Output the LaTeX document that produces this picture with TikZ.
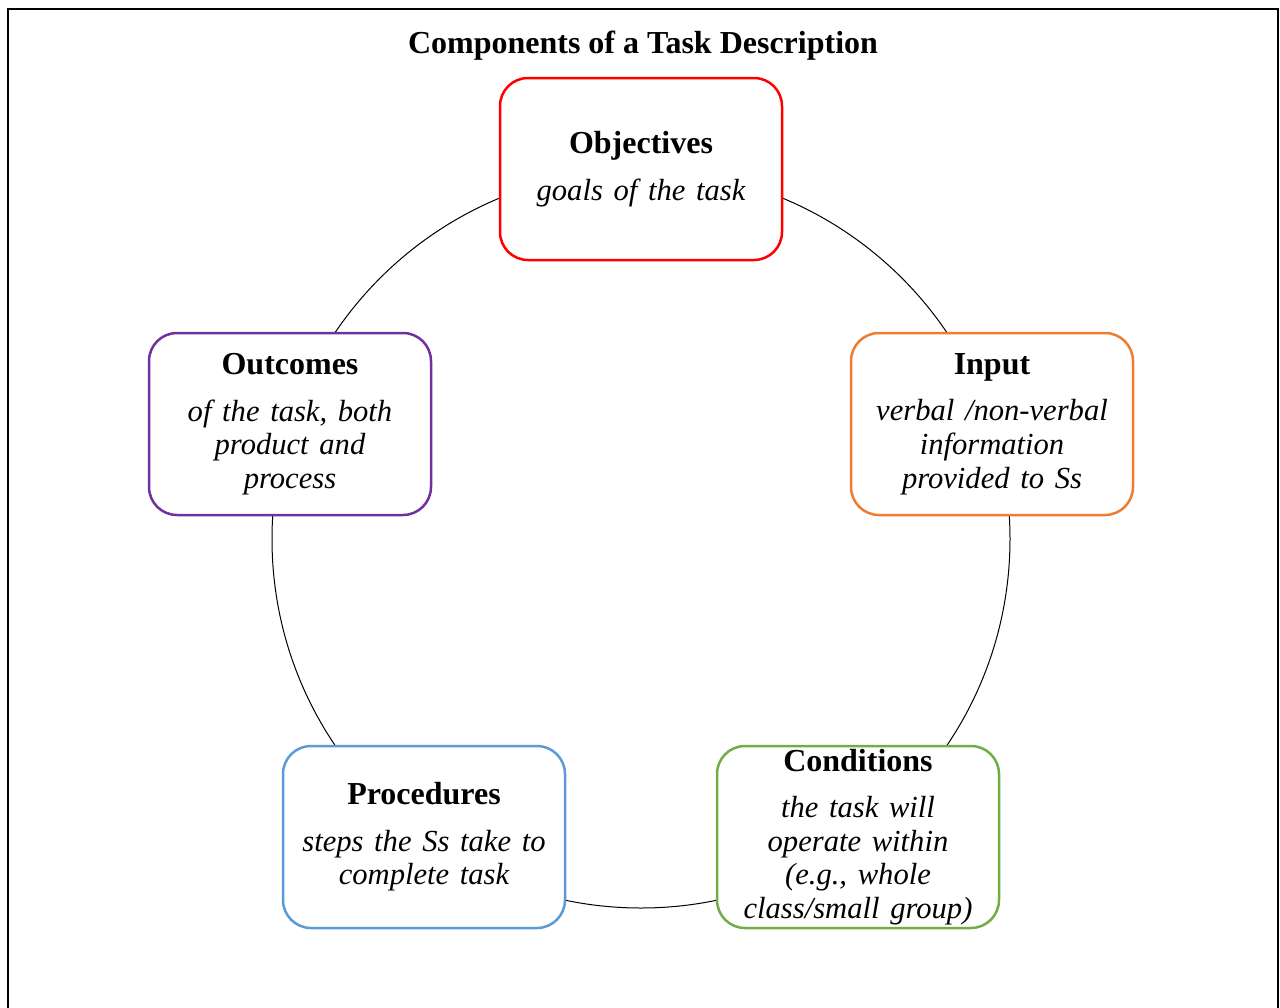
\documentclass[tikz,border=0pt]{standalone}
\usepackage{fontspec}
\setmainfont{Liberation Serif}
\usepackage{xcolor}

\definecolor{objred}{RGB}{255,0,0}
\definecolor{inorange}{RGB}{237,125,49}
\definecolor{condgreen}{RGB}{112,173,71}
\definecolor{procblue}{RGB}{91,155,213}
\definecolor{outpurple}{RGB}{112,48,160}

\newcommand{\sub}[1]{{\fontsize{30.6}{33.6}\selectfont\itshape #1}}

\begin{document}
\begin{tikzpicture}[x=1pt,y=-1pt,
        part/.style={draw, line width=2.5pt, rounded corners=28pt, fill=white,
            minimum width=282pt, minimum height=182pt, inner sep=0pt,
            text width=270pt, align=center,
            font=\fontsize{32}{33.6}\selectfont},
        head/.style={font=\fontsize{32}{36}\selectfont\bfseries}
    ]
        \useasboundingbox (0,0) rectangle (1280,1007);
        \draw[line width=2.5pt] (8,9) rectangle (1278,1030);

        \node[head] (title) at (643,46) {Components of a Task Description};

        % the ring behind the five parts
        \coordinate (hub) at (641,539);
        \draw[line width=1pt] (hub) circle[radius=369];

        \node[part, draw=objred] (objectives) at (641,169)
            {\textbf{Objectives}\\[13pt]\sub{goals of the task}};
        \node[part, draw=inorange] (input) at (992,424)
            {\textbf{Input}\\[13pt]\sub{verbal /non-verbal\\information\\provided to Ss}};
        \node[part, draw=condgreen] (conditions) at (858,837)
            {\textbf{Conditions}\\[13pt]\sub{the task will\\operate within\\(e.g., whole\\class/small group)}};
        \node[part, draw=procblue] (procedures) at (424,837)
            {\textbf{Procedures}\\[13pt]\sub{steps the Ss take to\\complete task}};
        \node[part, draw=outpurple] (outcomes) at (290,424)
            {\textbf{Outcomes}\\[13pt]\sub{of the task, both\\product and\\process}};
    \end{tikzpicture}
\end{document}
